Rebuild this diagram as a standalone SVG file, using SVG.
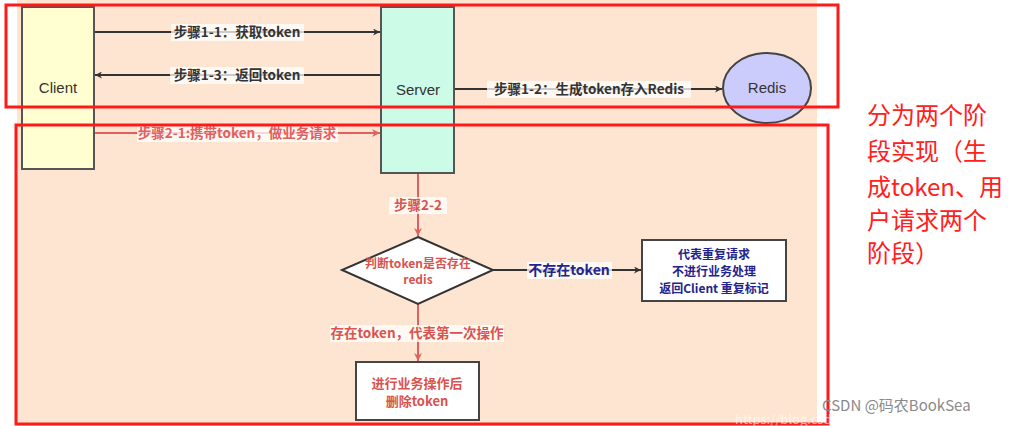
<svg xmlns="http://www.w3.org/2000/svg" width="1026" height="426" viewBox="0 0 1026 426">
<defs>
<style>
.t{font-family:"Noto Sans CJK SC","Liberation Sans",sans-serif;}
.lbl{font-size:13.5px;font-weight:bold;fill:#333;}
.red{fill:#D9534F;}
.blue{fill:#23238E;}
.node{font-family:"Liberation Sans","Noto Sans CJK SC",sans-serif;font-size:15px;fill:#333;}
.bg{fill:#FFFFFF;opacity:0.75;}
.ln{stroke:#333;stroke-width:2;fill:none;}
.lr{stroke:#E06060;stroke-width:2;fill:none;}
.frame{fill:none;stroke:#FF1A1A;stroke-width:3;}
</style>
<marker id="ad" viewBox="0 0 10 10" refX="10" refY="5" markerWidth="7" markerHeight="7" orient="auto" markerUnits="userSpaceOnUse">
<path d="M0,0 L10,5 L0,10 L3,5 z" fill="#333"/>
</marker>
<marker id="ar" viewBox="0 0 10 10" refX="10" refY="5" markerWidth="8" markerHeight="8" orient="auto" markerUnits="userSpaceOnUse">
<path d="M0,0 L10,5 L0,10 L3,5 z" fill="#E06060"/>
</marker>
</defs>
<rect x="0" y="0" width="1026" height="426" fill="#FFFFFF"/>
<rect x="17" y="0" width="800" height="426" fill="#FDE5D2"/>

<g id="connectors">
<line class="ln" x1="94" y1="32" x2="380" y2="32" marker-end="url(#ad)"/>
<line class="ln" x1="381" y1="75" x2="95" y2="75" marker-end="url(#ad)"/>
<line class="ln" x1="454" y1="89" x2="722" y2="89" marker-end="url(#ad)"/>
<line class="lr" x1="94" y1="133" x2="380" y2="133" marker-end="url(#ar)"/>
<line class="lr" x1="418" y1="173" x2="418" y2="236" marker-end="url(#ar)"/>
<line class="ln" x1="493" y1="270" x2="641" y2="270" marker-end="url(#ad)"/>
<line class="lr" x1="418" y1="304" x2="418" y2="361" marker-end="url(#ar)"/>

<rect class="bg" x="171" y="24" width="133" height="17"/>
<text class="t lbl" x="237" y="37" text-anchor="middle">步骤1-1：获取token</text>
<rect class="bg" x="170" y="67" width="134" height="17"/>
<text class="t lbl" x="237" y="80" text-anchor="middle">步骤1-3：返回token</text>
<rect class="bg" x="487" y="81" width="204" height="17"/>
<text class="t lbl" x="589" y="94" text-anchor="middle">步骤1-2：生成token存入Redis</text>
<rect class="bg" x="137" y="125" width="201" height="17"/>
<text class="t lbl" x="237" y="138" text-anchor="middle" style="fill:#E06060">步骤2-1:携带token，做业务请求</text>
<rect class="bg" x="389" y="197" width="58" height="17"/>
<text class="t lbl red" x="418" y="210" text-anchor="middle">步骤2-2</text>
<rect class="bg" x="527" y="262" width="85" height="17"/>
<text class="t lbl blue" x="569" y="275" text-anchor="middle" style="font-size:14px">不存在token</text>
<rect class="bg" x="330" y="325" width="174" height="17"/>
<text class="t lbl red" x="417" y="338" text-anchor="middle">存在token，代表第一次操作</text>
</g>

<g id="client">
<rect x="22" y="7" width="72" height="162" fill="#FFFFD2" stroke="#555" stroke-width="2"/>
<text class="node" x="58" y="93" text-anchor="middle">Client</text>
</g>
<g id="server">
<rect x="381" y="7" width="73" height="166" fill="#CCFBE8" stroke="#555" stroke-width="2"/>
<text class="node" x="418" y="95" text-anchor="middle">Server</text>
</g>
<g id="redis">
<ellipse cx="767" cy="88" rx="44" ry="35" fill="#CCCCFC" stroke="#444" stroke-width="2"/>
<text class="node" x="767" y="93" text-anchor="middle">Redis</text>
</g>
<g id="decision">
<polygon points="418,237 493,270 418,304 342,270" fill="#FFFFFF" stroke="#333" stroke-width="2"/>
<text class="t red" x="418" y="268" text-anchor="middle" font-size="12" font-weight="bold">判断token是否存在</text>
<text class="t red" x="418" y="284" text-anchor="middle" font-size="12" font-weight="bold">redis</text>
</g>
<g id="duplicate">
<rect x="642" y="240" width="144" height="61" fill="#FFFFFF" stroke="#444" stroke-width="2"/>
<text class="t blue" x="714" y="259" text-anchor="middle" font-size="12" font-weight="bold">代表重复请求</text>
<text class="t blue" x="714" y="276" text-anchor="middle" font-size="12" font-weight="bold">不进行业务处理</text>
<text class="t blue" x="714" y="293" text-anchor="middle" font-size="12" font-weight="bold">返回Client 重复标记</text>
</g>
<g id="process">
<rect x="356" y="362" width="123" height="58" fill="#FFFFFF" stroke="#444" stroke-width="2"/>
<text class="t red" x="417" y="388" text-anchor="middle" font-size="13" font-weight="bold">进行业务操作后</text>
<text class="t red" x="417" y="406" text-anchor="middle" font-size="13" font-weight="bold">删除token</text>
</g>

<g id="frames">
<rect class="frame" x="6" y="5" width="832" height="102"/>
<rect class="frame" x="16" y="125" width="812" height="299"/>
</g>

<g id="note">
<text class="t" font-size="24" fill="#FF2020">
<tspan x="867" y="124">分为两个阶</tspan>
<tspan x="867" y="160">段实现（生</tspan>
<tspan x="867" y="196">成token、用</tspan>
<tspan x="867" y="229">户请求两个</tspan>
<tspan x="867" y="262">阶段）</tspan>
</text>
</g>

<g id="watermark">
<text class="t" x="735" y="424" font-size="13" fill="#FFFFFF" opacity="0.6">https://blog.csdn.net/xueduchen</text>
<text class="t" x="822" y="411" font-size="15" fill="#8A8A8A">CSDN @码农BookSea</text>
</g>
</svg>
